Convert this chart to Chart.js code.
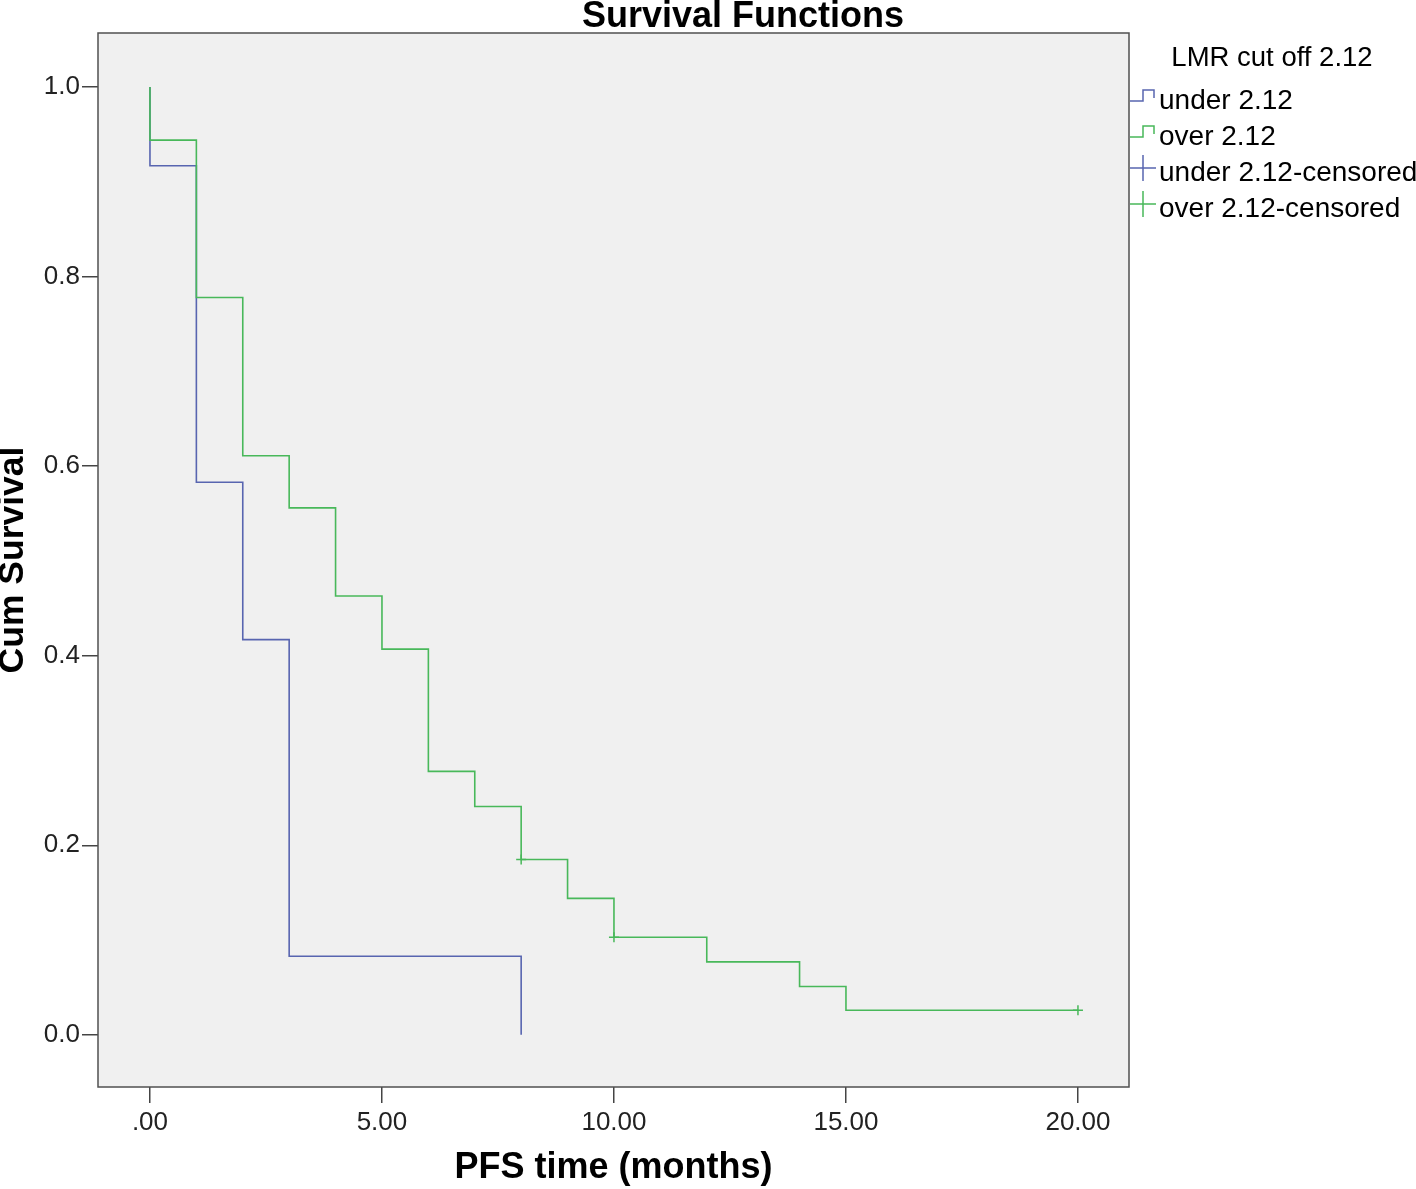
<!DOCTYPE html>
<html>
<head>
<meta charset="utf-8">
<script src="https://cdn.jsdelivr.net/npm/chart.js@4.4.0/dist/chart.umd.min.js"></script>
<style>
  html, body { margin: 0; padding: 0; background: #ffffff; }
  canvas { display: block; }
</style>
</head>
<body>
<canvas id="myChart" width="1416" height="1189"></canvas>
<script>
// Datos (Kaplan-Meier)
const underTimes = [0, 0, 1, 2, 3, 8];
const underSurv = [1.0, 0.917, 0.583, 0.417, 0.083, 0.0];
const overTimes = [0, 0, 1, 2, 3, 4, 5, 6, 7, 8, 9, 10, 12, 14, 15, 20];
const overSurv = [1.0, 0.944, 0.778, 0.611, 0.556, 0.463, 0.407, 0.278, 0.241, 0.185, 0.144, 0.103, 0.077, 0.051, 0.026, 0.026];
const underCensTimes = [];
const underCensSurv = [];
const overCensTimes = [8, 10, 20];
const overCensSurv = [0.185, 0.103, 0.026];

const xTickValues = [0, 5, 10, 15, 20];
const xTickLabels = ['.00', '5.00', '10.00', '15.00', '20.00'];
const yTickValues = [0, 0.2, 0.4, 0.6, 0.8, 1.0];
const yTickLabels = ['0.0', '0.2', '0.4', '0.6', '0.8', '1.0'];

const legendTitle = 'LMR cut off 2.12';
const seriesNames = ['under 2.12', 'over 2.12', 'under 2.12-censored', 'over 2.12-censored'];

const BLUE = '#5865b0';
const GREEN = '#48b85a';
const FONT = "'Liberation Sans', Arial, sans-serif";

function toPoints(xs, ys) {
    return xs.map((x, i) => ({ x: x, y: ys[i] }));
}

// Fondo gris del área y marco
const boxPlugin = {
    id: 'boxPlugin',
    beforeDraw(chart) {
        const a = chart.chartArea, c = chart.ctx;
        c.save();
        c.fillStyle = '#f0f0f0';
        c.fillRect(a.left, a.top, a.right - a.left, a.bottom - a.top);
        c.restore();
    },
    afterDatasetsDraw(chart) {
        const a = chart.chartArea, c = chart.ctx;
        c.save();
        c.strokeStyle = '#505050';
        c.lineWidth = 1.5;
        c.strokeRect(a.left, a.top, a.right - a.left, a.bottom - a.top);
        c.restore();
    }
};

// Título y leyenda estilo SPSS
const textPlugin = {
    id: 'textPlugin',
    afterDraw(chart) {
        const c = chart.ctx;
        c.save();
        c.fillStyle = '#000';
        c.textBaseline = 'alphabetic';
        c.textAlign = 'center';
        c.font = 'bold 36px ' + FONT;
        c.fillText('Survival Functions', 743, 27);

        c.font = '27.5px ' + FONT;
        c.fillText(legendTitle, 1272, 66);

        c.textAlign = 'left';
        c.font = '28px ' + FONT;
        const colors = [BLUE, GREEN, BLUE, GREEN];
        seriesNames.forEach((name, i) => {
            const base = 109 + i * 36;
            c.fillStyle = '#000';
            c.fillText(name, 1159, base);
            c.strokeStyle = colors[i];
            c.lineWidth = 1.5;
            c.beginPath();
            if (i < 2) {
                const yb = base - 8;
                c.moveTo(1130, yb);
                c.lineTo(1143, yb);
                c.lineTo(1143, yb - 11);
                c.lineTo(1154, yb - 11);
                c.lineTo(1154, yb - 3);
            } else {
                const yc = base - 13;
                c.moveTo(1130, yc);
                c.lineTo(1156, yc);
                c.moveTo(1143, yc - 13);
                c.lineTo(1143, yc + 13);
            }
            c.stroke();
        });
        c.restore();
    }
};

const ctx = document.getElementById('myChart').getContext('2d');
const myChart = new Chart(ctx, {
    type: 'line',
    data: {
        datasets: [
            {
                label: seriesNames[1],
                data: toPoints(overTimes, overSurv),
                borderColor: GREEN,
                borderWidth: 1.6,
                stepped: true,
                pointRadius: 0,
                fill: false,
                order: 1
            },
            {
                label: seriesNames[0],
                data: toPoints(underTimes, underSurv),
                borderColor: BLUE,
                borderWidth: 1.6,
                stepped: true,
                pointRadius: 0,
                fill: false,
                order: 2
            },
            {
                type: 'scatter',
                label: seriesNames[3],
                data: toPoints(overCensTimes, overCensSurv),
                pointStyle: 'cross',
                pointRadius: 5,
                borderColor: GREEN,
                borderWidth: 1.5,
                order: 0
            },
            {
                type: 'scatter',
                label: seriesNames[2],
                data: toPoints(underCensTimes, underCensSurv),
                pointStyle: 'cross',
                pointRadius: 5,
                borderColor: BLUE,
                borderWidth: 1.5,
                order: 0
            }
        ]
    },
    options: {
        responsive: false,
        animation: false,
        layout: { padding: { top: 33, right: 287, left: 0, bottom: 0 } },
        plugins: {
            legend: { display: false },
            title: { display: false },
            tooltip: { enabled: false }
        },
        scales: {
            x: {
                type: 'linear',
                min: -1.12,
                max: 21.1,
                afterBuildTicks(scale) {
                    scale.ticks = xTickValues.map(v => ({ value: v }));
                },
                afterFit(scale) { scale.height = 102; },
                ticks: {
                    color: '#222',
                    font: { family: FONT, size: 26 },
                    padding: 4,
                    maxRotation: 0,
                    callback: (v, i) => xTickLabels[i]
                },
                grid: { drawOnChartArea: false, drawTicks: true, tickLength: 16, color: '#444', lineWidth: 1.5 },
                border: { display: false },
                title: {
                    display: true,
                    text: 'PFS time (months)',
                    color: '#000',
                    font: { family: FONT, size: 36, weight: 'bold', lineHeight: '42px' },
                    padding: 0
                }
            },
            y: {
                type: 'linear',
                min: -0.055,
                max: 1.057,
                afterBuildTicks(scale) {
                    scale.ticks = yTickValues.map(v => ({ value: v }));
                },
                afterFit(scale) { scale.width = 98; },
                ticks: {
                    color: '#222',
                    font: { family: FONT, size: 26 },
                    padding: 2,
                    callback: (v, i) => yTickLabels[i]
                },
                grid: { drawOnChartArea: false, drawTicks: true, tickLength: 16, color: '#444', lineWidth: 1.5 },
                border: { display: false },
                title: {
                    display: true,
                    text: 'Cum Survival',
                    color: '#000',
                    font: { family: FONT, size: 35.5, weight: 'bold', lineHeight: '26px' },
                    padding: 0
                }
            }
        }
    },
    plugins: [boxPlugin, textPlugin]
});
</script>
</body>
</html>
